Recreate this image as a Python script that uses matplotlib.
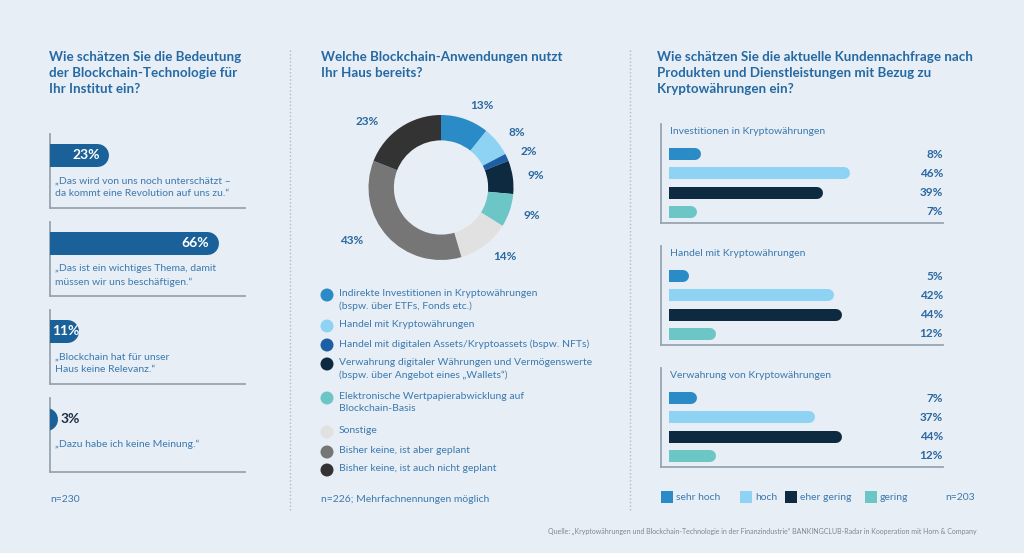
import numpy as np
import matplotlib
matplotlib.use("Agg")
import matplotlib.pyplot as plt
from matplotlib.patches import Rectangle

# figure size in pixels, everything below is laid out on this grid
W, H = 1024, 553
BG = '#e8eef5'
TITLE_C = '#2469a3'
TEXT_C = '#3b7ab0'
PCT_C = '#2a68a0'
DARK_C = '#1a2e44'
LINE_C = '#98a4b0'
FONT = 'Lato'

# --- left panel: relevance of blockchain
rel_title = 'Wie schätzen Sie die Bedeutung\nder Blockchain-Technologie für\nIhr Institut ein?'
rel_values = [23, 66, 11, 3]
rel_quotes = ['„Das wird von uns noch unterschätzt –\nda kommt eine Revolution auf uns zu.“',
              '„Das ist ein wichtiges Thema, damit\nmüssen wir uns beschäftigen.“',
              '„Blockchain hat für unser\nHaus keine Relevanz.“',
              '„Dazu habe ich keine Meinung.“']
rel_n = 'n=230'

# --- middle panel: applications in use
use_title = 'Welche Blockchain-Anwendungen nutzt\nIhr Haus bereits?'
use_labels = ['Indirekte Investitionen in Kryptowährungen\n(bspw. über ETFs, Fonds etc.)',
              'Handel mit Kryptowährungen',
              'Handel mit digitalen Assets/Kryptoassets (bspw. NFTs)',
              'Verwahrung digitaler Währungen und Vermögenswerte\n(bspw. über Angebot eines „Wallets“)',
              'Elektronische Wertpapierabwicklung auf\nBlockchain-Basis',
              'Sonstige',
              'Bisher keine, ist aber geplant',
              'Bisher keine, ist auch nicht geplant']
use_values = [13, 8, 2, 9, 9, 14, 43, 23]
use_colors = ['#2a8bc6', '#8fd3f4', '#1d5fa6', '#0e2a40', '#6cc6c6', '#e1e1e1', '#767676', '#333333']
use_n = 'n=226; Mehrfachnennungen möglich'

# --- right panel: customer demand
dem_title = ('Wie schätzen Sie die aktuelle Kundennachfrage nach\n'
             'Produkten und Dienstleistungen mit Bezug zu\nKryptowährungen ein?')
dem_groups = ['Investitionen in Kryptowährungen', 'Handel mit Kryptowährungen',
              'Verwahrung von Kryptowährungen']
dem_levels = ['sehr hoch', 'hoch', 'eher gering', 'gering']
dem_colors = ['#2a8bc6', '#8fd3f4', '#0e2a40', '#6cc6c6']
dem_invest = [8, 46, 39, 7]
dem_handel = [5, 42, 44, 12]
dem_verwahrung = [7, 37, 44, 12]
dem_n = 'n=203'

source = ('Quelle: „Kryptowährungen und Blockchain-Technologie in der Finanzindustrie“ '
          'BANKINGCLUB-Radar in Kooperation mit Horn & Company')

PT = 72.0 / 100  # points per pixel at dpi 100


def px_axes(fig, x0, x1):
    "axes spanning pixel columns x0..x1 and the full height, y in pixel rows"
    ax = fig.add_axes([x0 / W, 0, (x1 - x0) / W, 1])
    ax.set_ylim(H, 0)
    ax.axis('off')
    ax.patch.set_alpha(0)
    return ax


def round_bar(ax, value, y, height_px, px_per_unit, color):
    "bar with flat left end (clipped at axes edge) and round right end"
    r = height_px / 2.0 / px_per_unit
    ax.plot([-r, value - r], [y, y], color=color, lw=height_px * PT,
            solid_capstyle='round', clip_on=True)


def frame(ax, x, y0, y1, x1):
    ax.plot([x, x], [y0, y1], color=LINE_C, lw=1.3)
    ax.plot([x, x1], [y1, y1], color=LINE_C, lw=1.3)


def main():
    plt.rcParams['font.family'] = [FONT, 'DejaVu Sans']
    fig = plt.figure(figsize=(W / 100, H / 100), dpi=100, facecolor=BG)

    canvas = fig.add_axes([0, 0, 1, 1])
    canvas.set_xlim(0, W)
    canvas.set_ylim(H, 0)
    canvas.axis('off')
    canvas.set_facecolor(BG)

    # dotted column dividers
    for x in (290, 630):
        canvas.plot([x, x], [50, 510], color='#a9bccd', lw=1.0, linestyle=(0, (1, 1.6)))

    drawLeft(fig, canvas)
    drawMiddle(fig, canvas)
    drawRight(fig, canvas)

    canvas.text(977, 531, source, fontsize=5, color='#7d8893', ha='right', va='center')

    fig.savefig('out.png', dpi=100, facecolor=BG)


def title(canvas, x, text):
    canvas.text(x, 51, text, fontsize=9.6, fontweight='bold', color=TITLE_C,
                va='top', linespacing=1.42)


def drawLeft(fig, canvas):
    title(canvas, 49, rel_title)
    scale = 2.55  # px per percent
    ax = px_axes(fig, 50, 50 + 100 * scale)
    ax.set_xlim(0, 100)
    for i, (v, q) in enumerate(zip(rel_values, rel_quotes)):
        yc = 155 + 88 * i
        frame(canvas, 50, yc - 21, yc + 53, 245)
        round_bar(ax, v, yc, 23, scale, '#1a6099')
        if v * scale >= 40:
            ax.text(v - 9 / scale, yc, f'{v}%', color='white', fontsize=10,
                    fontweight='bold', ha='right', va='center')
        elif v * scale >= 20:
            ax.text(2 / scale, yc, f'{v}%', color='white', fontsize=10,
                    fontweight='bold', ha='left', va='center')
        else:
            ax.text(v + 3 / scale, yc, f'{v}%', color=DARK_C, fontsize=10,
                    fontweight='bold', ha='left', va='center')
        canvas.text(55, yc + 21, q, fontsize=7.5, color=TEXT_C, va='top', linespacing=1.55)
    canvas.text(50, 500, rel_n, fontsize=7.5, color=TEXT_C, va='center')


def drawMiddle(fig, canvas):
    title(canvas, 321, use_title)
    cx, cy, rad = 441, 187.5, 72.5
    half = 110
    ax = fig.add_axes([(cx - half) / W, 1 - (cy + half) / H, 2 * half / W, 2 * half / H])
    wedges, texts = ax.pie(use_values, colors=use_colors, startangle=90, counterclock=False,
                           wedgeprops=dict(width=0.35, edgecolor='none'),
                           labels=[f'{v}%' for v in use_values], labeldistance=1.2,
                           textprops=dict(color=PCT_C, fontsize=8.5, fontweight='bold'))
    # labels on the left side sit a bit further out
    for t in texts:
        x, y = t.get_position()
        if x < 0:
            t.set_position((x - 0.18, y - 0.08 * np.sign(y)))
    lim = half / rad
    ax.set_xlim(-lim, lim)
    ax.set_ylim(-lim, lim)
    ax.set_aspect('equal')
    ax.axis('off')

    ys = [295, 326, 345, 364, 398, 432, 452, 470]
    for y, lab, col in zip(ys, use_labels, use_colors):
        canvas.scatter([327], [y], s=(13 * PT) ** 2, color=col, edgecolors='none')
        canvas.text(339, y - 6, lab, fontsize=7.5, color=TEXT_C, va='top', linespacing=1.45)
    canvas.text(321, 500, use_n, fontsize=7.5, color=TEXT_C, va='center')


def drawRight(fig, canvas):
    title(canvas, 657, dem_title)
    scale = 3.94
    x0 = 669
    ax = px_axes(fig, x0, W)
    ax.set_xlim(0, (W - x0) / scale)
    series = [dem_invest, dem_handel, dem_verwahrung]
    for g, (name, vals) in enumerate(zip(dem_groups, series)):
        top = 132 + 122 * g
        frame(canvas, 661, top - 8, top + 91, 943)
        canvas.text(670, top, name, fontsize=7.5, color=TEXT_C, va='center')
        for r, (v, col) in enumerate(zip(vals, dem_colors)):
            y = top + 22 + 19.3 * r
            round_bar(ax, v, y, 12, scale, col)
            canvas.text(943, y, f'{v}%', color=PCT_C, fontsize=8.5, fontweight='bold',
                        ha='right', va='center')

    lx = [661, 740, 785, 865]
    for x, lab, col in zip(lx, dem_levels, dem_colors):
        canvas.add_patch(Rectangle((x, 491), 12, 12, color=col, lw=0))
        canvas.text(x + 15, 497, lab, fontsize=7.5, color=TEXT_C, va='center')
    canvas.text(945, 497, dem_n, fontsize=7.5, color=TEXT_C, va='center')


if __name__ == "__main__":
    main()
